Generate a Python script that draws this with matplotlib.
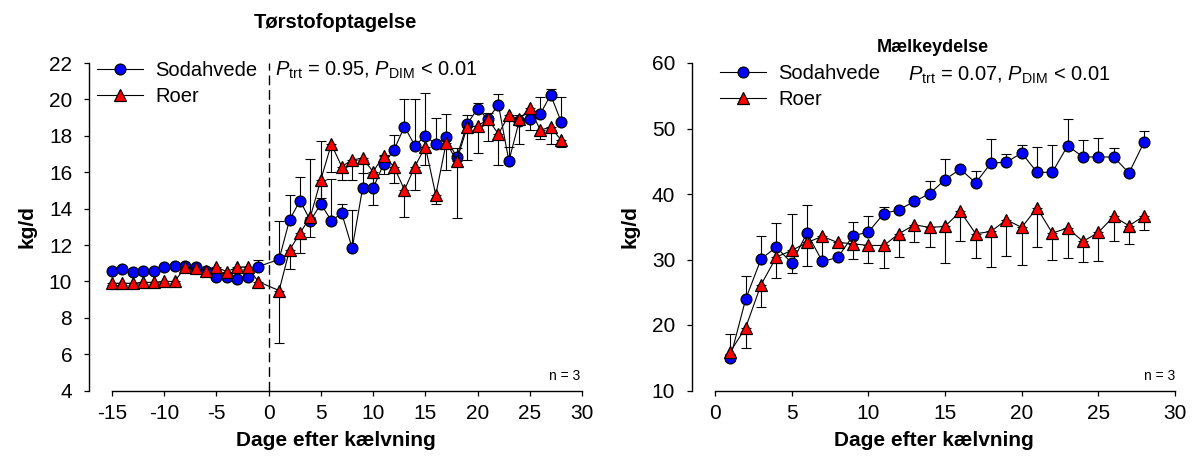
import numpy as np
import matplotlib
matplotlib.use('Agg')
import matplotlib.pyplot as plt

plt.rcParams['font.family'] = ['Liberation Sans', 'DejaVu Sans']
plt.rcParams['mathtext.fontset'] = 'custom'
plt.rcParams['mathtext.rm'] = 'Liberation Sans'
plt.rcParams['mathtext.it'] = 'Liberation Sans:italic'
plt.rcParams['axes.unicode_minus'] = False

# --- Tørstofoptagelse (dry matter intake), days -15..-1 and 1..28
dim_left = list(range(-15, 0)) + list(range(1, 29))
soda_left = [10.59, 10.67, 10.52, 10.58, 10.59, 10.81, 10.85, 10.85, 10.80, 10.55,
             10.26, 10.23, 10.12, 10.23, 10.81,
             11.22, 13.38, 14.44, 13.34, 14.26, 13.34, 13.74, 11.82, 15.15, 15.12,
             16.44, 17.22, 18.51, 17.46, 17.99, 17.55, 17.92, 16.82, 18.65, 19.48,
             18.93, 19.70, 16.62, 18.84, 18.93, 19.19, 20.25, 18.78]
roer_left = [9.90, 9.90, 9.90, 9.95, 9.95, 10.00, 10.00, 10.78, 10.72, 10.60,
             10.78, 10.54, 10.78, 10.81, 9.99,
             9.50, 11.73, 12.65, 13.56, 15.60, 17.54, 16.31, 16.68, 16.77, 16.03,
             16.90, 16.31, 15.03, 16.31, 17.41, 14.75, 17.63, 16.64, 18.47, 18.54,
             18.91, 18.10, 19.15, 18.91, 19.52, 18.32, 18.47, 17.77]
soda_left_err = [0.1] * 14 + [0.35] + \
    [2.1, 1.37, 1.32, 3.4, 3.46, 2.3, 0.5, 2.1, 1.5, 0.8, 0.5, 0.83, 1.5, 2.54,
     2.38, 1.41, 1.28, 0.5, 0.5, 0.3, 0.3, 0.6, 2.3, 0.3, 0.3, 0.96, 0.3, 1.37]
roer_left_err = [0.1] * 14 + [0.25] + \
    [2.9, 1.06, 1.07, 1.1, 1.0, 1.5, 0.73, 1.1, 0.8, 1.83, 1.0, 0.9, 1.5, 1.3,
     1.0, 0.5, 1.5, 3.17, 1.8, 1.46, 1.17, 1.7, 1.75, 1.36, 1.2, 0.5, 0.92, 0.4]

# --- Mælkeydelse (milk yield), days 1..28
dim_right = list(range(1, 29))
soda_right = [15.0, 23.94, 30.06, 31.9, 29.45, 34.04, 29.7, 30.31, 33.62, 34.19,
              36.99, 37.6, 38.87, 40.05, 42.19, 43.82, 41.68, 44.74, 44.84, 46.27,
              43.31, 43.31, 47.38, 45.65, 45.65, 45.65, 43.21, 48.0]
roer_right = [15.93, 19.6, 26.13, 30.37, 31.38, 32.6, 33.52, 32.6, 32.4, 32.14,
              32.14, 33.93, 35.3, 34.9, 35.05, 37.34, 33.93, 34.28, 36.07, 34.9,
              37.86, 34.04, 34.8, 32.76, 34.13, 36.58, 35.15, 36.68]
soda_right_hi = [0.5, 3.56, 3.6, 3.66, 0, 4.3, 0, 0.3, 2.1, 2.5, 1.1, 0.3, 0.5, 2.0,
                 3.2, 0.3, 1.8, 3.6, 1.3, 1.27, 3.9, 4.2, 4.0, 2.65, 2.85, 1.4, 0.3, 1.6]
soda_right_lo = [0.5, 0, 0, 0, 1.5] + [0] * 23
roer_right_lo = [0.5, 3.15, 3.4, 3.2, 0, 3.56, 3.8, 0.5, 2.3, 2.7, 3.4, 3.56, 2.7, 3.06,
                 5.6, 4.44, 3.7, 5.35, 5.6, 5.7, 6.0, 4.1, 4.5, 3.2, 4.3, 3.8, 2.8, 2.1]
roer_right_hi = [2.7, 0, 0, 0, 5.5] + [0] * 23

W, H = 1197, 470
fig = plt.figure(figsize=(W / 100, H / 100), dpi=100)


def px_axes(x0, x1, y0, y1):
    # pixel box (top-left origin) -> figure axes
    return fig.add_axes([x0 / W, 1 - y1 / H, (x1 - x0) / W, (y1 - y0) / H])


def style(ax, xb, yb, xticks, yticks):
    for s in ['top', 'right']:
        ax.spines[s].set_visible(False)
    ax.spines['bottom'].set_bounds(*xb)
    ax.spines['left'].set_bounds(*yb)
    ax.set_xticks(xticks)
    ax.set_yticks(yticks)
    ax.tick_params(direction='out', length=3.6, width=0.9, labelsize=15)
    ax.tick_params(axis='y', pad=8.5)
    ax.tick_params(axis='x', pad=6)
    for s in ['bottom', 'left']:
        ax.spines[s].set_linewidth(1.0)


def draw(ax, x, ys, yr, es, er):
    ax.errorbar(x, ys, yerr=es, fmt='none', ecolor='black', elinewidth=0.8,
                capsize=3.5, capthick=0.8, zorder=2)
    ax.errorbar(x, yr, yerr=er, fmt='none', ecolor='black', elinewidth=0.8,
                capsize=3.5, capthick=0.8, zorder=2)
    h1, = ax.plot(x, ys, '-o', color='black', lw=0.8, marker='o', ms=7.8,
                  mfc='#0000ff', mec='black', mew=0.9, zorder=3, label='Sodahvede')
    h2, = ax.plot(x, yr, '-^', color='black', lw=0.8, marker='^', ms=8.5,
                  mfc='#ff0000', mec='black', mew=0.9, zorder=4, label='Roer')
    return h1, h2


leg_kw = dict(loc='upper left', frameon=False, fontsize=14.5,
              bbox_transform=fig.transFigure, borderaxespad=0, borderpad=0,
              handlelength=2.3, handletextpad=0.6, labelspacing=0.35)

# left panel
ax1 = px_axes(89, 582, 63, 390.7)
ax1.set_xlim(-17.2, 30)
ax1.set_ylim(4, 22)
style(ax1, (-15, 30), (4, 22), range(-15, 31, 5), range(4, 23, 2))
ax1.axvline(0, color='black', lw=1.0, ls=(0, (7, 3.5)), zorder=1)
z = np.zeros(len(dim_left))
h1, h2 = draw(ax1, dim_left, soda_left, roer_left,
              [z, soda_left_err], [roer_left_err, z])
ax1.legend(handles=[h1, h2], bbox_to_anchor=(97 / W, 1 - 61 / H), **leg_kw)
fig.text(275 / W, 1 - 70 / H, r'$P_{\rm trt}$ = 0.95, $P_{\rm DIM}$ < 0.01',
         fontsize=14.5, va='center', ha='left')
fig.text(580 / W, 1 - 376 / H, 'n = 3', fontsize=10, ha='right', va='center')
fig.text(335 / W, 1 - 23 / H, 'Tørstofoptagelse', fontsize=14.5, fontweight='bold',
         ha='center', va='center')
ax1.set_xlabel('Dage efter kælvning', fontsize=15, fontweight='bold', labelpad=6)
ax1.set_ylabel('kg/d', fontsize=15, fontweight='bold', labelpad=9)

# right panel
ax2 = px_axes(692, 1175, 63, 390.5)
ax2.set_xlim(-1.5, 30)
ax2.set_ylim(10, 60)
style(ax2, (0, 30), (10, 60), range(0, 31, 5), range(10, 61, 10))
h1, h2 = draw(ax2, dim_right, soda_right, roer_right,
              [soda_right_lo, soda_right_hi], [roer_right_lo, roer_right_hi])
ax2.legend(handles=[h1, h2], bbox_to_anchor=(720 / W, 1 - 64 / H), **leg_kw)
fig.text(908 / W, 1 - 75 / H, r'$P_{\rm trt}$ = 0.07, $P_{\rm DIM}$ < 0.01',
         fontsize=14.5, va='center', ha='left')
fig.text(1175 / W, 1 - 376 / H, 'n = 3', fontsize=10, ha='right', va='center')
fig.text(933 / W, 1 - 47 / H, 'Mælkeydelse', fontsize=13, fontweight='bold',
         ha='center', va='center')
ax2.set_xlabel('Dage efter kælvning', fontsize=15, fontweight='bold', labelpad=6)
ax2.set_ylabel('kg/d', fontsize=15, fontweight='bold', labelpad=9)

fig.savefig('out.png', dpi=100)
